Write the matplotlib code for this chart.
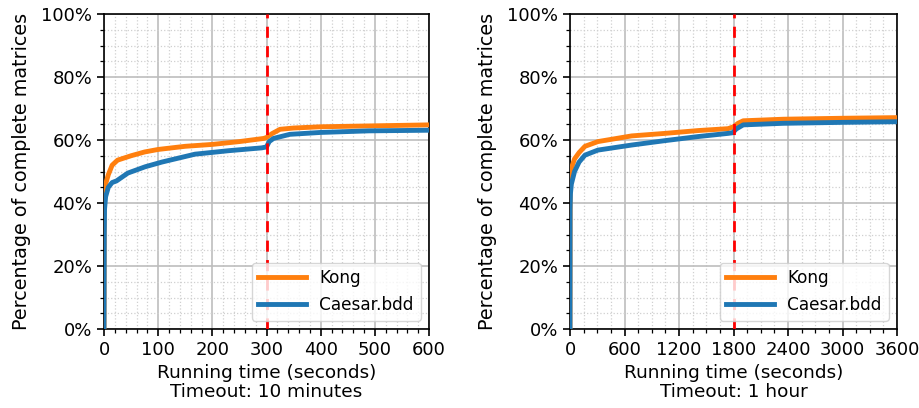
import matplotlib
matplotlib.use("Agg")
import matplotlib.pyplot as plt
from matplotlib.ticker import MultipleLocator, PercentFormatter

# Left panel (timeout 10 minutes)
left_kong_t = [0, 0.5, 3, 8, 15, 25, 50, 75, 100, 150, 200, 250, 295, 300, 310, 325, 350, 400, 500, 600]
left_kong_p = [0, 42, 46, 49, 52, 53.6, 55, 56.2, 57, 58, 58.6, 59.5, 60.5, 60.8, 62, 63.4, 63.8, 64.2, 64.5, 64.8]
left_caesar_t = [0, 0.5, 1, 3, 8, 15, 23, 44, 76, 107, 168, 230, 291, 300, 305, 313, 343, 400, 489, 600]
left_caesar_p = [0, 30, 38, 42, 45, 46.5, 47, 49.5, 51.5, 53, 55.5, 56.6, 57.5, 57.8, 59.5, 60.5, 61.8, 62.4, 62.9, 63.1]

# Right panel (timeout 1 hour)
right_kong_t = [0, 2, 15, 50, 100, 165, 308, 679, 1046, 1413, 1740, 1800, 1850, 1907, 2350, 3000, 3600]
right_kong_p = [0, 50, 51, 54, 56, 58, 59.5, 61.3, 62.1, 63, 63.6, 64.2, 65.3, 66.1, 66.6, 66.9, 67.1]
right_caesar_t = [0, 1, 5, 15, 50, 100, 165, 308, 679, 1046, 1413, 1740, 1790, 1830, 1907, 2350, 3000, 3600]
right_caesar_p = [0, 38, 43, 46, 50, 53, 55.2, 56.8, 58.4, 59.8, 61.1, 62.1, 62.3, 63.5, 64.8, 65.3, 65.6, 65.8]

panels = [
    dict(kt=left_kong_t, kp=left_kong_p, ct=left_caesar_t, cp=left_caesar_p,
         xmax=600, major=100, minor=20, timeout=300,
         xlabel="Running time (seconds)\nTimeout: 10 minutes"),
    dict(kt=right_kong_t, kp=right_kong_p, ct=right_caesar_t, cp=right_caesar_p,
         xmax=3600, major=600, minor=150, timeout=1800,
         xlabel="Running time (seconds)\nTimeout: 1 hour"),
]

plt.rcParams['font.family'] = ['DejaVu Sans']

fig = plt.figure(figsize=(9.19, 4.08), dpi=100)
rects = [[104/919, 79/408, 325/919, 315/408], [570/919, 79/408, 327/919, 315/408]]

for rect, p in zip(rects, panels):
    ax = fig.add_axes(rect)
    ax.plot(p['kt'], p['kp'], color='#ff7f0e', lw=3.5, label='Kong', zorder=3)
    ax.plot(p['ct'], p['cp'], color='#1f77b4', lw=3.5, label='Caesar.bdd', zorder=3)
    ax.axvline(p['timeout'], color='red', ls='--', lw=2, dashes=(4, 3), zorder=4)
    ax.set_xlim(0, p['xmax'])
    ax.set_ylim(0, 100)
    ax.xaxis.set_major_locator(MultipleLocator(p['major']))
    ax.xaxis.set_minor_locator(MultipleLocator(p['minor']))
    ax.yaxis.set_major_locator(MultipleLocator(20))
    ax.yaxis.set_minor_locator(MultipleLocator(5))
    ax.yaxis.set_major_formatter(PercentFormatter(decimals=0))
    ax.grid(which='major', color='#bdbdbd', lw=1.2, zorder=0)
    ax.grid(which='minor', color='#d0d0d0', ls=':', lw=0.9, zorder=0)
    ax.set_axisbelow(True)
    ax.tick_params(which='major', direction='out', length=5, width=1.2, labelsize=13)
    ax.tick_params(which='minor', direction='out', length=3, width=0.9)
    for s in ax.spines.values():
        s.set_linewidth(1.2)
    ax.set_xlabel(p['xlabel'], fontsize=13.3, labelpad=4, linespacing=1.08)
    ax.set_ylabel('Percentage of complete matrices', fontsize=13.8, labelpad=7)
    ax.legend(loc='lower right', fontsize=12.2, handlelength=2.8)

fig.savefig('out.png', dpi=100)
